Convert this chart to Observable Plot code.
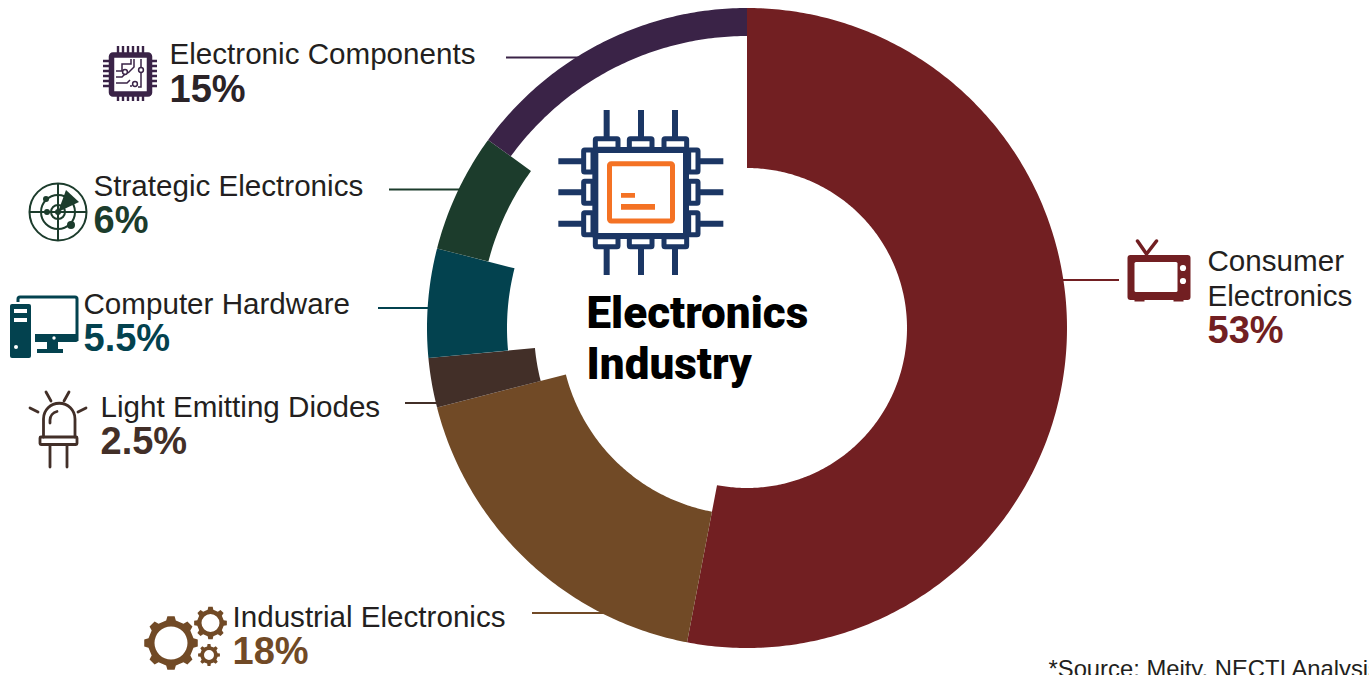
<!DOCTYPE html>
<html>
<head>
<meta charset="utf-8">
<title>Electronics Industry</title>
<script src="https://cdn.jsdelivr.net/npm/d3@7"></script>
<script src="https://cdn.jsdelivr.net/npm/@observablehq/plot@0.6"></script>
<style>
  html, body { margin: 0; padding: 0; background: #fff; overflow: hidden; }
  svg { display: block; }
</style>
</head>
<body>
<div id="chart"></div>
<script>
// Market share of each electronics segment, clockwise from twelve o'clock
const categories = ["Consumer Electronics", "Industrial Electronics", "Light Emitting Diodes", "Computer Hardware", "Strategic Electronics", "Electronic Components"];
const shares = [53, 18, 2.5, 5.5, 6, 15];

// Ring styling
const colors = ["#721F22", "#714A26", "#422F28", "#03424F", "#1C3C2C", "#3A2347"];
const valueColors = ["#721F22", "#714A26", "#422F28", "#03424F", "#1C3C2C", "#2B2327"];
const innerRadii = [160, 187, 213, 240, 267, 292];
const outerRadius = 320;
const center = [747, 328];

// Label layout: left edge, baselines of the name lines, baseline of the value
const labelX = [1207, 232, 100, 83, 93, 169];
const nameLines = [["Consumer", "Electronics"], ["Industrial Electronics"], ["Light Emitting Diodes"], ["Computer Hardware"], ["Strategic Electronics"], ["Electronic Components"]];
const nameBaselines = [[270, 305], [626], [416], [313], [195], [63]];
const valueBaselines = [342, 663, 453, 350, 232, 101];

// Leader lines: start x, end x, y
const leaderX1 = [1060, 532, 405, 378, 389, 506];
const leaderX2 = [1119, 612, 442, 434, 464, 582];
const leaderY = [279.5, 612.5, 402.5, 307.5, 189, 57];

// Expand each share into a band of points between its inner and outer radius
let running = 0;
const ringRows = categories.flatMap((category, i) => {
  const start = running / 100 * 2 * Math.PI;
  running += shares[i];
  const end = running / 100 * 2 * Math.PI;
  const steps = Math.max(4, Math.ceil((end - start) * 90));
  return d3.range(steps + 1).map(k => {
    const a = start + (end - start) * k / steps;
    const sx = Math.sin(a), cy = -Math.cos(a);
    return {
      category,
      x1: center[0] + innerRadii[i] * sx, y1: center[1] + innerRadii[i] * cy,
      x2: center[0] + outerRadius * sx, y2: center[1] + outerRadius * cy
    };
  });
});

const nameRows = nameLines.flatMap((lines, i) =>
  lines.map((text, k) => ({text, x: labelX[i], y: nameBaselines[i][k]})));
const valueRows = categories.map((category, i) => ({
  text: `${shares[i]}%`, x: labelX[i], y: valueBaselines[i], color: valueColors[i]
}));
const leaderRows = categories.map((category, i) => ({
  category, x1: leaderX1[i], x2: leaderX2[i], y: leaderY[i]
}));

// Toothed wheel outline with a round hole, used by the industrial pictogram
function gear(cx, cy, rOut, rRoot, rHole, teeth) {
  const p = d3.path();
  const step = 2 * Math.PI / teeth;
  const pt = (r, a) => [cx + r * Math.sin(a), cy - r * Math.cos(a)];
  for (let t = 0; t < teeth; t++) {
    const a = t * step;
    const seq = [[rRoot, a - step * .27], [rOut, a - step * .17], [rOut, a + step * .17], [rRoot, a + step * .27]];
    seq.forEach(([r, ang], k) => {
      const [x, y] = pt(r, ang);
      (t === 0 && k === 0) ? p.moveTo(x, y) : p.lineTo(x, y);
    });
  }
  p.closePath();
  p.moveTo(cx + rHole, cy);
  p.arc(cx, cy, rHole, 0, 2 * Math.PI);
  p.closePath();
  return p.toString();
}

// Pictograms, each in its own local coordinates
const repeat = (values, fn) => values.map(fn).join("");

const bigChip = `
  <g fill="none" stroke="#1B3664" stroke-width="18" stroke-linejoin="round">
    <rect x="166" y="150" width="272" height="258"/>
    ${repeat([166, 268, 372], x => `<rect x="${x}" y="116" width="68" height="32" rx="3" stroke-width="15"/>`)}
    ${repeat([166, 268, 372], x => `<rect x="${x}" y="410" width="68" height="30" rx="3" stroke-width="15"/>`)}
    ${repeat([150, 244, 338], y => `<rect x="131" y="${y}" width="28" height="66" rx="3" stroke-width="15"/>`)}
    ${repeat([150, 244, 338], y => `<rect x="446" y="${y}" width="28" height="66" rx="3" stroke-width="15"/>`)}
    ${repeat([200, 303, 405], x => `<path d="M${x} 30V112M${x} 442V525"/>`)}
    ${repeat([184, 277, 371], y => `<path d="M55 ${y}H127M478 ${y}H550"/>`)}
  </g>
  <rect x="208.500" y="191" width="189" height="172" rx="5" fill="none" stroke="#F47224" stroke-width="15"/>
  <path d="M243 279H285V293H243ZM243 312H345V329H243Z" fill="#F47224"/>`;

const smallChip = `
  <g fill="none" stroke="#3A2347">
    <rect x="8.500" y="9" width="38" height="39" rx="1.500" stroke-width="5.500"/>
    <g stroke-width="2.400">
      ${repeat([15, 20, 25, 30, 35, 40], v => `<path d="M${v} 0V8M${v} 47V55M0 ${v}H7M47 ${v}H54"/>`)}
    </g>
    <g stroke-width="1.500">
      <path d="M13 25H19V18H28V13M13 37H24L27 34M31 13V21L25 27M13 31H19L22 28M38 13V22M38 26V41L35 41M27 40H29"/>
      <circle cx="22" cy="26" r="2.400"/><circle cx="38" cy="24" r="2.400"/><circle cx="32" cy="38" r="2.400"/>
    </g>
  </g>`;

const radar = `
  <g fill="none" stroke="#1C3C2C" stroke-width="2">
    <circle r="28.500"/><circle r="17"/><circle r="7"/>
    <path d="M-28 0H28M0 -28V28"/>
  </g>
  <path d="M0 0L8 -22L21 -10Z" fill="#1C3C2C"/>
  <g fill="#1C3C2C"><circle cx="-12" cy="-13" r="3"/><circle cx="-11" cy="0" r="3"/><circle cx="13" cy="13" r="4"/><circle r="3"/></g>`;

const computer = `
  <rect x="0" y="9" width="21" height="54" rx="2" fill="#03424F"/>
  <path d="M4 14H17V18H4ZM4 23H17V27H4Z" fill="#fff"/>
  <circle cx="6" cy="52" r="2" fill="#fff"/>
  <path d="M8 7V4Q8 2 10 2H65Q67 2 67 4V46" fill="none" stroke="#03424F" stroke-width="3"/>
  <path d="M25 39H68V45Q68 47 66 47H25Z" fill="#03424F"/>
  <path d="M37 47H48V50L48 54H53V58H27V54H37Z" fill="#03424F"/>
  <circle cx="44" cy="43" r="1.700" fill="#fff"/>`;

const led = `
  <g fill="none" stroke="#422F28" stroke-width="2.800" stroke-linecap="round">
    <path d="M14.500 46V28A15.500 15.500 0 0 1 46 28V46"/>
    <path d="M21 32V29A9 9 0 0 1 28 20.500"/>
    <path d="M21 54V76M38 54V76"/>
    <path d="M17 1L22 10M40 1L35 10M1 17L9 21M57 17L49 21"/>
  </g>
  <rect x="11" y="46" width="37" height="7.500" rx="1" fill="none" stroke="#422F28" stroke-width="2.800"/>`;

const gears = [gear(171, 643, 27, 23, 16.500, 8), gear(210.500, 623, 16.500, 13.500, 9, 8), gear(209, 655, 11, 8.800, 5, 8)]
  .map(d => `<path d="${d}" fill="#714A26" fill-rule="evenodd"/>`).join("");

const tv = `
  <path d="M19 14L10 1M19 14L29 1" fill="none" stroke="#721F22" stroke-width="3.500" stroke-linecap="round"/>
  <rect x="0" y="15" width="63" height="45" rx="3" fill="#721F22"/>
  <rect x="7" y="22" width="43" height="30" rx="1.500" fill="#fff"/>
  <circle cx="55.500" cy="28" r="3.100" fill="#fff"/><circle cx="55.500" cy="41" r="3.100" fill="#fff"/>
  <path d="M7 60H17V61.500H7ZM46 60H56V61.500H46Z" fill="#721F22"/>`;

// Draws a pictogram group at a position given in chart coordinates
const icon = (markup, px, py, k = 1) => (index, {x, y}) =>
  d3.create("svg:g")
    .attr("transform", `translate(${x(px)},${y(py)}) scale(${k})`)
    .html(markup)
    .node();

const chart = Plot.plot({
  width: 1369,
  height: 675,
  margin: 0,
  x: {domain: [0, 1369], range: [0, 1369], axis: null},
  y: {domain: [0, 675], range: [0, 675], axis: null},
  color: {domain: categories, range: colors},
  style: {background: "#fff"},
  marks: [
    Plot.ruleY(leaderRows, {x1: "x1", x2: "x2", y: "y", stroke: "category", strokeWidth: 2}),
    Plot.area(ringRows, {x1: "x1", y1: "y1", x2: "x2", y2: "y2", z: "category", fill: "category"}),
    Plot.text(nameRows, {
      x: "x", y: "y", text: "text", textAnchor: "start", lineAnchor: "bottom",
      fontFamily: "Liberation Sans", fontSize: 29.6, fill: "#231F20"
    }),
    Plot.text(valueRows, {
      x: "x", y: "y", text: "text", textAnchor: "start", lineAnchor: "bottom",
      fontFamily: "Liberation Sans", fontWeight: 700, fontSize: 38,
      fill: {value: "color", scale: null}
    }),
    Plot.text(["Electronics", "Industry"], {
      x: 586, y: [327, 378], text: d => d, textAnchor: "start", lineAnchor: "bottom",
      fontFamily: "Roboto", fontWeight: 900, fontSize: 44, fill: "#000"
    }),
    Plot.text(["*Source: Meity, NECTI Analysis"], {
      x: 1048, y: 676, text: d => d, textAnchor: "start", lineAnchor: "bottom",
      fontFamily: "Liberation Sans", fontSize: 23.8, fill: "#231F20"
    }),
    icon(bigChip, 540, 100, 1 / 3),
    icon(smallChip, 103, 46),
    icon(radar, 58, 212),
    icon(computer, 10, 295),
    icon(led, 29, 391),
    icon(gears, 0, 0),
    icon(tv, 1127.500, 240)
  ]
});

document.getElementById("chart").append(chart);
</script>
</body>
</html>
